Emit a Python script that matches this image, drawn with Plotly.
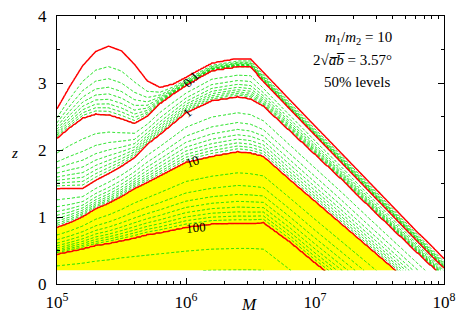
import numpy as np
import plotly.graph_objects as go

# log10(M) columns at which the contour heights were read
log_m = [5.0, 5.1, 5.2, 5.3, 5.4, 5.5, 5.6, 5.7, 5.8, 5.9, 6.0,
         6.2, 6.4, 6.5, 6.6, 6.8, 7.0, 7.2, 7.4, 7.6, 7.8, 8.0]

# z of each labelled (red) level along those columns
z_001 = [2.61, 2.95, 3.26, 3.47, 3.55, 3.48, 3.28, 3.03, 2.93, 2.98, 3.08,
         3.29, 3.36, 3.36, 3.16, 2.75, 2.35, 1.96, 1.56, 1.16, 0.76, 0.37]
z_01 = [2.18, 2.34, 2.48, 2.54, 2.53, 2.47, 2.40, 2.51, 2.70, 2.84, 2.97,
        3.19, 3.25, 3.25, 3.03, 2.62, 2.22, 1.83, 1.43, 1.03, 0.63, 0.24]
z_1 = [1.43, 1.43, 1.43, 1.55, 1.65, 1.76, 1.89, 2.09, 2.24, 2.40, 2.56,
       2.74, 2.80, 2.77, 2.66, 2.30, 1.94, 1.58, 1.20, 0.83, 0.46, 0.10]
z_10 = [0.85, 0.92, 1.01, 1.13, 1.21, 1.31, 1.43, 1.52, 1.62, 1.72, 1.82,
        1.91, 1.98, 1.96, 1.91, 1.57, 1.24, 0.91, 0.58, 0.25, -0.08, -0.41]
z_100 = [0.45, 0.49, 0.53, 0.58, 0.61, 0.65, 0.69, 0.74, 0.77, 0.81, 0.85,
         0.90, 0.91, 0.91, 0.92, 0.64, 0.32, 0.02, -0.28, -0.58, -0.88, -1.18]
# two green levels below 100
z_200 = [0.27, 0.29, 0.31, 0.34, 0.36, 0.39, 0.41, 0.43, 0.45, 0.47, 0.49,
         0.52, 0.53, 0.53, 0.52, 0.22, -0.08, -0.38, -0.68, -0.98, -1.28, -1.58]
z_300 = [0.10, 0.11, 0.13, 0.14, 0.15, 0.15, 0.16, 0.17, 0.18, 0.18, 0.19,
         0.205, 0.21, 0.21, 0.205, -0.05, -0.35, -0.65, -0.95, -1.25, -1.55, -1.85]

red_levels = [0.01, 0.1, 1, 10, 100]
x_ticks = [1e5, 1e6, 1e7, 1e8]
x_ticktext = ["10<sup>5</sup>", "10<sup>6</sup>", "10<sup>7</sup>", "10<sup>8</sup>"]
minor_x = [k * 10 ** e for e in range(5, 8) for k in range(2, 10)]

# level list 0.01, 0.02 .. 0.09, 0.1, 0.2 .. 100, 200, 300 -> index 0..38
# red levels sit at index 0, 9, 18, 27, 36
lm_f = np.round(np.arange(5.0, 8.0001, 0.01), 3)
zz = np.round(np.arange(0.2, 4.0001, 0.02), 3)
reds = [np.interp(lm_f, log_m, a) for a in (z_001, z_01, z_1, z_10, z_100)]
z2 = np.interp(lm_f, log_m, z_200)
z3 = np.interp(lm_f, log_m, z_300)

cols = []
for j in range(len(lm_f)):
    pos = []
    for d in range(4):
        za, zb = reds[d][j], reds[d + 1][j]
        for k in range(1, 10):
            pos.append(za + (zb - za) * np.log10(k))
    pos += [reds[4][j], z2[j], z3[j]]
    idx = np.arange(len(pos), dtype=float)
    zp = np.array([pos[0] + 0.3] + pos + [pos[-1] - 0.3])[::-1]
    ip = np.concatenate([[-1.0], idx, [idx[-1] + 1]])[::-1]
    cols.append(np.interp(zz, zp, ip))
field = np.round(np.array(cols).T, 3)
M = 10 ** lm_f

fig = go.Figure()
# plotly shades the side where the constraint fails -> "<" shades values above 10
fig.add_trace(go.Contour(x=M, y=zz, z=field, showscale=False,
                         contours=dict(type="constraint", operation="<", value=27),
                         fillcolor="#ffff00", line=dict(width=0, color="#ffff00", smoothing=0)))
fig.add_trace(go.Contour(x=M, y=zz, z=field, showscale=False, autocontour=False,
                         contours=dict(start=1, end=38, size=1, coloring="none"),
                         line=dict(color="#00dd00", width=1, dash="3px,2px", smoothing=0)))
fig.add_trace(go.Contour(x=M, y=zz, z=field, showscale=False, autocontour=False,
                         contours=dict(start=0, end=36, size=9, coloring="none"),
                         line=dict(color="#ff0000", width=1.5, smoothing=0)))

serif = "Liberation Serif"
lab = [("0.1", 6.036, 3.05, -45), ("1", 6.013, 2.56, -40),
       ("10", 6.05, 1.83, -20), ("100", 6.08, 0.85, -5)]
for t, xl, yl, ang in lab:
    fig.add_annotation(x=xl, y=yl, text=t, showarrow=False, textangle=ang,
                       font=dict(family=serif, size=13, color="black"))

fig.add_annotation(x=0.871, y=0.960, xref="paper", yref="paper", showarrow=False,
                   text="<i>m</i><sub>1</sub>/<i>m</i><sub>2</sub> = 10",
                   font=dict(family=serif, size=15, color="black"))
fig.add_annotation(x=0.871, y=0.874, xref="paper", yref="paper", showarrow=False,
                   text="2√<i>a̅b̅</i> = 3.57°",
                   font=dict(family=serif, size=15, color="black"))
fig.add_annotation(x=0.866, y=0.791, xref="paper", yref="paper", showarrow=False,
                   text="50% levels", font=dict(family=serif, size=15, color="black"))
fig.add_annotation(x=0.497, y=-0.119, xref="paper", yref="paper", showarrow=False,
                   text="<i>M</i>", font=dict(family=serif, size=17, color="black"))
fig.add_annotation(x=-0.124, y=0.487, xref="paper", yref="paper", showarrow=False,
                   text="<i>z</i>", font=dict(family=serif, size=15, color="black"))

fig.update_layout(
    width=463, height=328,
    margin=dict(l=57, r=12, t=7, b=44),
    paper_bgcolor="white", plot_bgcolor="white",
    showlegend=False,
    font=dict(family=serif, size=17, color="black"),
)
fig.update_xaxes(type="log", range=[5, 8], tickvals=x_ticks, ticktext=x_ticktext,
                 ticks="inside", ticklen=6, tickcolor="black", ticklabeloverflow="allow",
                 ticklabelstandoff=3,
                 showline=True, linecolor="black", linewidth=1, mirror="allticks",
                 showgrid=False, zeroline=False,
                 minor=dict(tickvals=minor_x, ticks="inside", ticklen=3, tickcolor="black"))
fig.update_yaxes(range=[0, 4], tickvals=[0, 1, 2, 3, 4],
                 ticks="inside", ticklen=6, tickcolor="black", ticklabeloverflow="allow",
                 ticklabelstandoff=6,
                 showline=True, linecolor="black", linewidth=1, mirror="allticks",
                 showgrid=False, zeroline=False,
                 minor=dict(dtick=0.5, ticks="inside", ticklen=3, tickcolor="black"))

fig.write_html("out.html", config={"displayModeBar": False},
               post_script="document.body.style.margin='0';")
